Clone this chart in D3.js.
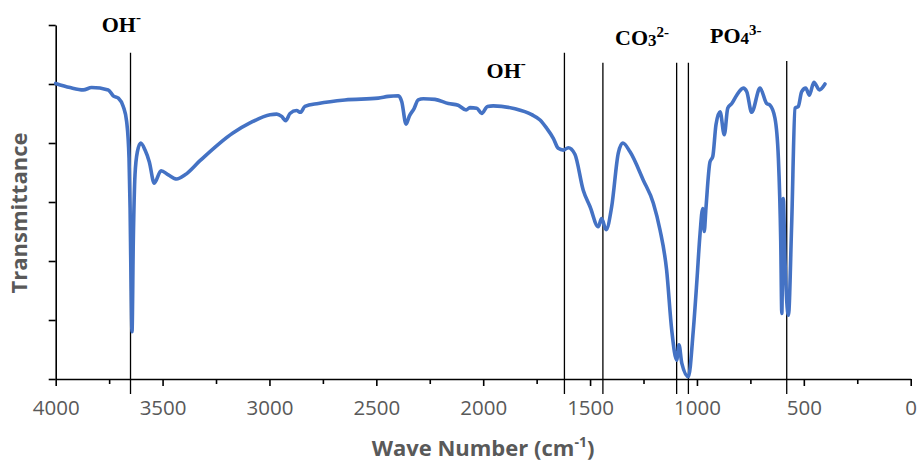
<!DOCTYPE html>
<html>
<head>
<meta charset="utf-8">
<script src="https://cdn.jsdelivr.net/npm/d3@7"></script>
<style>
  html, body { margin: 0; padding: 0; background: #fff; }
  svg { display: block; }
</style>
</head>
<body>
<svg id="chart" width="917" height="462"></svg>
<script>
// ---------- data ----------
const wavenumbers = [4000,3933,3871,3832,3754,3731,3707,3684,3668,3657,3652,3648,3643,3637,3629,3618,3602,3582,3562,3539,3507,3473,3434,3395,3325,3171,3091,2997,2966,2943,2924,2904,2873,2855,2834,2771,2647,2491,2444,2397,2381,2361,2345,2324,2304,2280,2226,2163,2117,2080,2062,2030,2007,1980,1953,1851,1773,1734,1703,1672,1649,1625,1602,1571,1532,1500,1462,1446,1425,1399,1368,1347,1313,1251,1204,1173,1142,1118,1095,1084,1071,1040,1017,1000,986,973,966,958,939,926,911,892,872,856,837,814,783,767,744,705,674,658,635,619,608,603,596,588,572,557,541,526,510,491,474,453,427,401];
const transmittance = [50.1,49.4,49.0,49.4,49.0,48.0,47.6,46.2,43.6,37.5,29.0,17.6,8.0,23.3,34.6,38.5,40.0,38.8,36.8,33.2,35.3,34.6,33.9,34.6,37.0,41.7,43.4,44.8,44.9,44.5,43.8,45.0,45.5,45.2,46.2,46.7,47.3,47.6,47.9,48.0,47.0,43.2,44.6,45.8,47.3,47.5,47.4,46.7,46.4,45.6,46.0,45.9,45.0,46.2,46.3,45.8,44.8,43.9,42.5,40.8,39.1,38.8,39.2,38.1,32.0,29.2,25.8,27.2,25.3,29.2,38.3,40.0,38.5,33.7,29.8,25.3,18.5,8.3,3.2,5.8,2.7,0.4,8.3,16.8,24.4,28.9,25.0,28.9,36.8,37.7,43.1,45.3,41.4,45.9,46.7,48.1,49.3,48.7,45.2,49.3,46.7,46.4,44.2,37.4,23.3,11.1,30.6,20.0,10.8,26.1,45.9,46.2,48.7,49.3,48.1,50.3,49.0,50.0];

const xTicks = [4000,3500,3000,2500,2000,1500,1000,500,0];
const xMinorTicks = [3750,3250,2750,2250,1750,1250,750,250];
const yTicks = [0,10,20,30,40,50,60];

// annotation (vertical reference lines) wavenumbers and their top values
const markerWavenumbers = [3650,1620,1440,1095,1040,580];
const markerTops = [55.3,55.3,53.6,53.6,53.6,53.9];

// band labels: [main text, subscript, superscript], anchor wavenumber, baseline value
const labelMain = ["OH","OH","CO","PO"];
const labelSub = ["","","3","4"];
const labelSup = ["-","-","2-","3-"];
const labelWn = [3785,1984,1383,939];
const labelVal = [58.8,51.0,56.6,56.9];

const xTitle = "Wave Number (cm";
const yTitle = "Transmittance";

// ---------- drawing ----------
const svg = d3.select("#chart");
const x = d3.scaleLinear().domain([4000,0]).range([55.7,910.7]);
const y = d3.scaleLinear().domain([0,60]).range([379,25]);

// y axis
const yAxis = svg.append("g")
  .attr("transform", `translate(${x(4000)},0)`)
  .call(d3.axisLeft(y).tickValues(yTicks).tickSize(7).tickSizeOuter(0).tickFormat(""));
yAxis.select(".domain").attr("stroke","#000").attr("stroke-width",1.6);
yAxis.selectAll(".tick line").attr("stroke","#000").attr("stroke-width",1.6);

// x axis minor ticks
const xMinor = svg.append("g")
  .attr("transform", `translate(0,${y(0)})`)
  .call(d3.axisBottom(x).tickValues(xMinorTicks).tickSize(5).tickSizeOuter(0).tickFormat(""));
xMinor.select(".domain").remove();
xMinor.selectAll(".tick line").attr("stroke","#000").attr("stroke-width",1.6);

// x axis major
const xAxis = svg.append("g")
  .attr("transform", `translate(0,${y(0)})`)
  .call(d3.axisBottom(x).tickValues(xTicks).tickSize(7).tickSizeOuter(0).tickPadding(14).tickFormat(d3.format("d")));
xAxis.select(".domain").attr("stroke","#000").attr("stroke-width",1.6);
xAxis.selectAll(".tick line").attr("stroke","#000").attr("stroke-width",1.6);
xAxis.selectAll(".tick text")
  .attr("fill","#595959")
  .attr("font-family","'Open Sans', sans-serif")
  .attr("font-size","20.5px");

// marker lines
svg.append("g").selectAll("line")
  .data(markerWavenumbers)
  .join("line")
  .attr("x1", d => x(d)).attr("x2", d => x(d))
  .attr("y1", (d,i) => y(markerTops[i]))
  .attr("y2", y(0) + 15)
  .attr("stroke","#000")
  .attr("stroke-width",1.3);

// spectrum line
const pts = wavenumbers.map((w,i) => [w, transmittance[i]]);
svg.append("path")
  .datum(pts)
  .attr("fill","none")
  .attr("stroke","#4472C4")
  .attr("stroke-width",3.6)
  .attr("stroke-linejoin","round")
  .attr("stroke-linecap","round")
  .attr("d", d3.line().curve(d3.curveMonotoneX).x(d => x(d[0])).y(d => y(d[1])));

// band labels
const lab = svg.append("g")
  .attr("font-family","'Liberation Serif', 'Times New Roman', serif")
  .attr("font-weight","bold")
  .attr("font-size","22px")
  .attr("fill","#000");
labelMain.forEach((m,i) => {
  const t = lab.append("text")
    .attr("x", x(labelWn[i]))
    .attr("y", y(labelVal[i]));
  t.append("tspan").text(m);
  if (labelSub[i]) {
    t.append("tspan").attr("font-size","17px").attr("dy", 1).text(labelSub[i]);
    t.append("tspan").attr("font-size","15px").attr("dy", -9).text(labelSup[i]);
  } else {
    t.append("tspan").attr("font-size","15px").attr("dy", -10).text(labelSup[i]);
  }
});

// axis titles
const xt = svg.append("text")
  .attr("x", 483).attr("y", 456)
  .attr("text-anchor","middle")
  .attr("font-family","'Open Sans', sans-serif")
  .attr("font-weight","bold")
  .attr("font-size","22px")
  .attr("fill","#595959");
xt.append("tspan").text(xTitle);
xt.append("tspan").attr("font-size","14px").attr("dy",-9).text("-1");
xt.append("tspan").attr("dy",9).text(")");

svg.append("text")
  .attr("transform","translate(27,213) rotate(-90)")
  .attr("text-anchor","middle")
  .attr("font-family","'Open Sans', sans-serif")
  .attr("font-weight","bold")
  .attr("font-size","22px")
  .attr("fill","#595959")
  .text(yTitle);
</script>
</body>
</html>
